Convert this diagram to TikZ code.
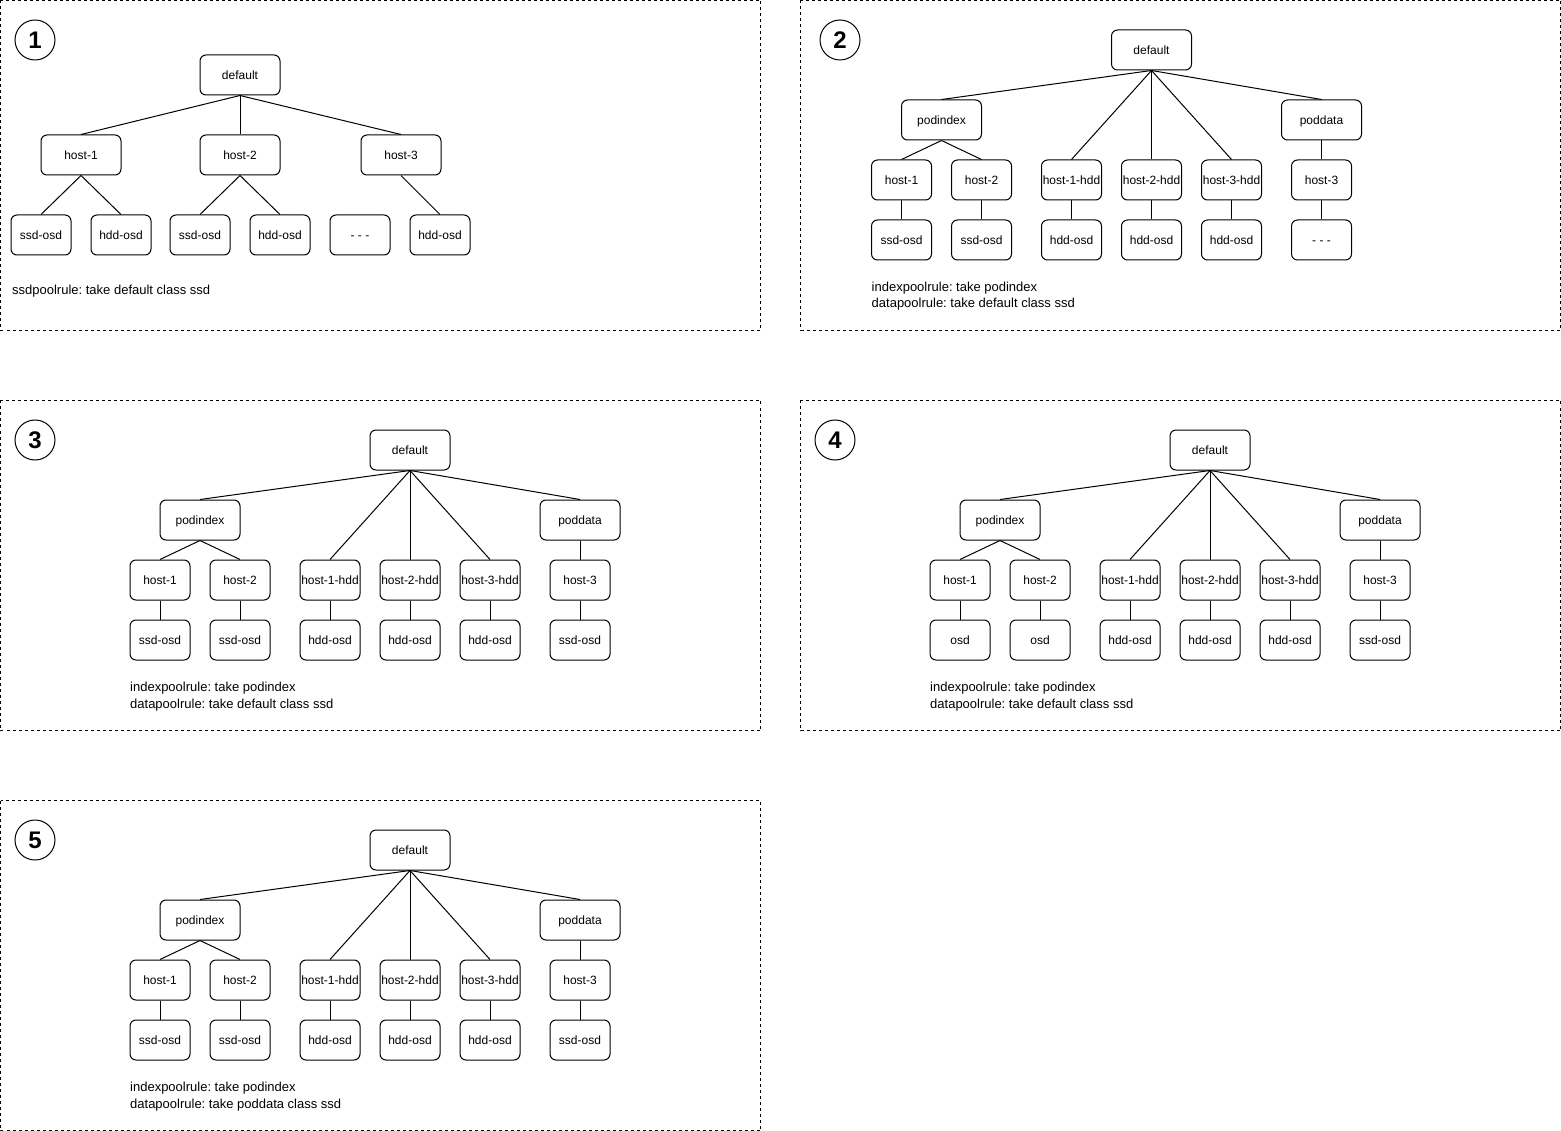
\documentclass[tikz,border=0pt]{standalone}
\usepackage{fontspec}
\setmainfont{Liberation Sans}
\frenchspacing
\begin{document}
% Tree with pod buckets: default -> podindex/poddata and per-host hdd buckets
\newcommand\podtree[4]{%
  \node[box] (#1def) at (410,450) {default};
  \node[box] (#1pi) at (200,520) {podindex};
  \node[box] (#1pd) at (580,520) {poddata};
  \node[smallbox] (#1h1) at (160,580) {host-1};
  \node[smallbox] (#1h2) at (240,580) {host-2};
  \node[smallbox] (#1d1) at (330,580) {host-1-hdd};
  \node[smallbox] (#1d2) at (410,580) {host-2-hdd};
  \node[smallbox] (#1d3) at (490,580) {host-3-hdd};
  \node[smallbox] (#1h3) at (580,580) {host-3};
  \node[smallbox] (#1l1) at (160,640) {#2};
  \node[smallbox] (#1l2) at (240,640) {#3};
  \node[smallbox] (#1l3) at (330,640) {hdd-osd};
  \node[smallbox] (#1l4) at (410,640) {hdd-osd};
  \node[smallbox] (#1l5) at (490,640) {hdd-osd};
  \node[smallbox] (#1l6) at (580,640) {#4};
  \draw[link] (#1def.south) -- (#1pi.north);
  \draw[link] (#1def.south) -- (#1d1.north);
  \draw[link] (#1def.south) -- (#1d2.north);
  \draw[link] (#1def.south) -- (#1d3.north);
  \draw[link] (#1def.south) -- (#1pd.north);
  \draw[link] (#1pi.south) -- (#1h1.north);
  \draw[link] (#1pi.south) -- (#1h2.north);
  \draw[link] (#1pd.south) -- (#1h3.north);
  \draw[link] (#1h1.south) -- (#1l1.north);
  \draw[link] (#1h2.south) -- (#1l2.north);
  \draw[link] (#1d1.south) -- (#1l3.north);
  \draw[link] (#1d2.south) -- (#1l4.north);
  \draw[link] (#1d3.south) -- (#1l5.north);
  \draw[link] (#1h3.south) -- (#1l6.north);
}
\begin{tikzpicture}[x=1pt,y=-1pt,
  every node/.style={font=\fontsize{12}{14}\selectfont},
  box/.style={draw, rounded corners=6pt, line width=1pt, minimum width=80pt,
    minimum height=40pt, inner sep=0pt, text height=8.5pt, text depth=0pt},
  smallbox/.style={box, minimum width=60pt},
  panel/.style={draw, dashed, line width=0.8pt},
  badge/.style={draw, circle, line width=1pt, minimum size=40pt, inner sep=0pt,
    text height=17pt, text depth=0pt, font=\fontsize{24}{24}\selectfont\bfseries},
  link/.style={line width=1pt},
  caption/.style={anchor=base west, inner sep=0pt, font=\fontsize{13}{16}\selectfont}]

\useasboundingbox (0,0) rectangle (1561,1131);

% panel frames
\draw[panel] (0.5,0.5) rectangle (760.5,330.5);
\draw[panel] (800.5,0.5) rectangle (1560.5,330.5);
\draw[panel] (0.5,400.5) rectangle (760.5,730.5);
\draw[panel] (800.5,400.5) rectangle (1560.5,730.5);
\draw[panel] (0.5,800.5) rectangle (760.5,1130.5);

% badges
\node[badge] (n1) at (35,40) {1};
\node[badge] (n2) at (840,40) {2};
\node[badge] (n3) at (35,440) {3};
\node[badge] (n4) at (835,440) {4};
\node[badge] (n5) at (35,840) {5};

% panel 1: plain host tree
\node[box] (a-def) at (240,75) {default};
\node[box] (a-h1) at (81,155) {host-1};
\node[box] (a-h2) at (240,155) {host-2};
\node[box] (a-h3) at (401,155) {host-3};
\node[smallbox] (a-l1) at (41,235) {ssd-osd};
\node[smallbox] (a-l2) at (121,235) {hdd-osd};
\node[smallbox] (a-l3) at (200,235) {ssd-osd};
\node[smallbox] (a-l4) at (280,235) {hdd-osd};
\node[smallbox] (a-l5) at (360,235) {- - -};
\node[smallbox] (a-l6) at (440,235) {hdd-osd};
\draw[link] (a-def.south) -- (a-h1.north);
\draw[link] (a-def.south) -- (a-h2.north);
\draw[link] (a-def.south) -- (a-h3.north);
\draw[link] (a-h1.south) -- (a-l1.north);
\draw[link] (a-h1.south) -- (a-l2.north);
\draw[link] (a-h2.south) -- (a-l3.north);
\draw[link] (a-h2.south) -- (a-l4.north);
\draw[link] (a-h3.south) -- (a-l6.north);
\node[caption] (a-cap) at (12,294.5) {ssdpoolrule: take default class ssd};

% panel 2
\begin{scope}[shift={(741.5,-400)}]
  \podtree{b-}{ssd-osd}{ssd-osd}{- - -}
  \node[caption] (b-cap1) at (130,691.5) {indexpoolrule: take podindex};
  \node[caption] (b-cap2) at (130,708) {datapoolrule: take default class ssd};
\end{scope}

% panel 3
\podtree{c-}{ssd-osd}{ssd-osd}{ssd-osd}
\node[caption] (c-cap1) at (130,691.5) {indexpoolrule: take podindex};
\node[caption] (c-cap2) at (130,708) {datapoolrule: take default class ssd};

% panel 4
\begin{scope}[shift={(800,0)}]
  \podtree{d-}{osd}{osd}{ssd-osd}
  \node[caption] (d-cap1) at (130,691.5) {indexpoolrule: take podindex};
  \node[caption] (d-cap2) at (130,708) {datapoolrule: take default class ssd};
\end{scope}

% panel 5
\begin{scope}[shift={(0,400)}]
  \podtree{e-}{ssd-osd}{ssd-osd}{ssd-osd}
  \node[caption] (e-cap1) at (130,691.5) {indexpoolrule: take podindex};
  \node[caption] (e-cap2) at (130,708) {datapoolrule: take poddata class ssd};
\end{scope}
\end{tikzpicture}
\end{document}
